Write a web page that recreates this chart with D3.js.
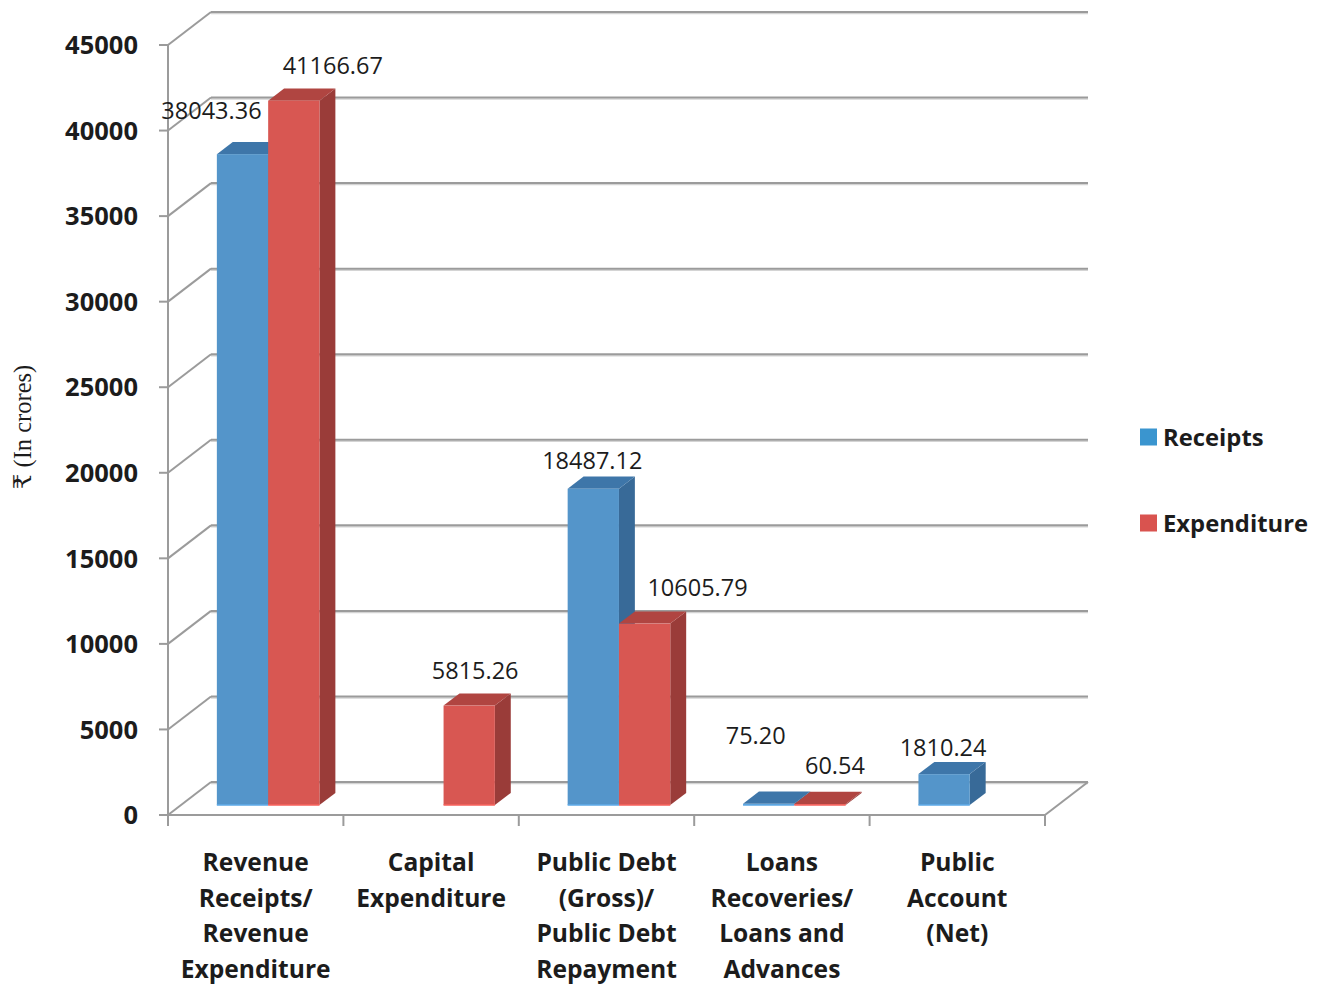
<!DOCTYPE html>
<html><head><meta charset="utf-8">
<script src="https://cdn.jsdelivr.net/npm/d3@7"></script>
<style>body{margin:0;background:#fff}svg{display:block}</style>
</head><body>
<svg id="chart" width="1325" height="988"></svg>
<script>
const categories = [
  ["Revenue","Receipts/","Revenue","Expenditure"],
  ["Capital","Expenditure"],
  ["Public Debt","(Gross)/","Public Debt","Repayment"],
  ["Loans","Recoveries/","Loans and","Advances"],
  ["Public","Account","(Net)"]
];
const seriesNames = ["Receipts","Expenditure"];
const receipts    = [38043.36, null, 18487.12, 75.20, 1810.24];
const expenditure = [41166.67, 5815.26, 10605.79, 60.54, null];
const receiptLabels    = ["38043.36", "", "18487.12", "75.20", "1810.24"];
const expenditureLabels= ["41166.67", "5815.26", "10605.79", "60.54", ""];
const yTicks = [0,5000,10000,15000,20000,25000,30000,35000,40000,45000];
// manual label nudges (as in the original, labels were moved by hand)
const receiptNudge     = [[-39,-37],[0,0],[-9,-22],[-21,-62],[-9,-20]];
const expenditureNudge = [[31,-29],[-2,-29],[45,-30],[7,-32],[0,0]];

const svg = d3.select("#chart");
const DX = 43, DY = -33;          // full depth offset of the 3D box
const D0 = 0.30, D1 = 0.67;       // bar depth range (fraction)
const catIdx = categories.map((c,i)=>i);
const x = d3.scaleBand().domain(catIdx).range([168,1045]);
const y = d3.scaleLinear().domain([0,45000]).range([815,45]);
const bw = x.bandwidth();
const inner = d3.scaleBand().domain(seriesNames).range([bw*0.205, bw*0.79]);
const ink = "#1c1c1c";

const grid = "#9b9b9b";
const gG = svg.append("g");
yTicks.forEach(t=>{
  const yf = y(t);
  gG.append("line").attr("x1",168+DX).attr("x2",1088).attr("y1",yf+DY+1.5).attr("y2",yf+DY+1.5)
    .attr("stroke","#d4d4d4").attr("stroke-width",1.5);
  gG.append("line").attr("x1",168+DX).attr("x2",1088).attr("y1",yf+DY).attr("y2",yf+DY)
    .attr("stroke",grid).attr("stroke-width",2);
  gG.append("line").attr("x1",168).attr("y1",yf).attr("x2",168+DX).attr("y2",yf+DY)
    .attr("stroke",grid).attr("stroke-width",2);
  gG.append("line").attr("x1",159).attr("x2",168).attr("y1",yf).attr("y2",yf)
    .attr("stroke",grid).attr("stroke-width",2);
});
gG.append("line").attr("x1",1045).attr("y1",y(0)).attr("x2",1045+DX).attr("y2",y(0)+DY)
  .attr("stroke",grid).attr("stroke-width",2);
gG.append("line").attr("x1",168).attr("x2",168).attr("y1",y(45000)).attr("y2",y(0))
  .attr("stroke",grid).attr("stroke-width",2);
gG.append("line").attr("x1",168).attr("x2",1045).attr("y1",y(0)).attr("y2",y(0))
  .attr("stroke",grid).attr("stroke-width",2);
d3.range(categories.length+1).forEach(i=>{
  const xx = 168 + i*bw;
  gG.append("line").attr("x1",xx).attr("x2",xx).attr("y1",y(0)).attr("y2",y(0)+11)
    .attr("stroke",grid).attr("stroke-width",2);
});

const colors = {
  Receipts:    {front:"#5495CA", top:"#3E76A9", side:"#386A98"},
  Expenditure: {front:"#D85752", top:"#B04541", side:"#9A3C39"}
};
const bars = svg.append("g");
const lblG = svg.append("g");
const ox0 = D0*DX, oy0 = D0*DY, ddx = (D1-D0)*DX, ddy = (D1-D0)*DY;
catIdx.forEach(i=>{
  [["Receipts",receipts,receiptLabels,receiptNudge],["Expenditure",expenditure,expenditureLabels,expenditureNudge]].forEach(([name,vals,labs,nud])=>{
    const v = vals[i];
    if (v==null) return;
    const c = colors[name];
    const xl = x(i)+inner(name)+ox0, xr = xl+inner.bandwidth();
    const yb = y(0)+oy0, yt = y(v)+oy0;
    const g = bars.append("g");
    g.append("path").attr("d",`M${xr},${yb}L${xr+ddx},${yb+ddy}L${xr+ddx},${yt+ddy}L${xr},${yt}Z`).attr("fill",c.side);
    g.append("path").attr("d",`M${xl},${yt}L${xl+ddx},${yt+ddy}L${xr+ddx},${yt+ddy}L${xr},${yt}Z`).attr("fill",c.top);
    g.append("rect").attr("x",xl).attr("y",yt).attr("width",xr-xl).attr("height",Math.max(0,yb-yt)).attr("fill",c.front);
    g.append("line").attr("x1",xl).attr("x2",xr).attr("y1",yb).attr("y2",yb).attr("stroke",d3.color(c.front).brighter(0.4)).attr("stroke-width",1.5);
    const cx = (xl+xr)/2 + ddx/2, cy = yt + ddy/2;
    lblG.append("text").attr("x",cx+nud[i][0]).attr("y",cy+nud[i][1]).attr("dy","0.36em")
      .attr("text-anchor","middle").attr("font-family","'Open Sans', sans-serif").attr("font-size",23.5)
      .attr("fill",ink).text(labs[i]);
  });
});

const tl = svg.append("g");
yTicks.forEach(t=>{
  tl.append("text").attr("x",138).attr("y",y(t)).attr("dy","0.36em").attr("text-anchor","end")
    .attr("font-family","'Open Sans', sans-serif").attr("font-weight","bold").attr("font-size",25.5)
    .attr("fill",ink).text(t);
});

const cl = svg.append("g");
categories.forEach((lines,i)=>{
  const t = cl.append("text").attr("text-anchor","middle").attr("font-family","'Open Sans', sans-serif")
    .attr("font-weight","bold").attr("font-size",24.6).attr("fill",ink);
  lines.forEach((ln,j)=>{
    t.append("tspan").attr("x",x(i)+bw/2).attr("y",862+j*35.8).attr("dy","0.36em").text(ln);
  });
});

svg.append("text").attr("transform","translate(31,427) rotate(-90)").attr("text-anchor","middle")
  .attr("font-family","'Liberation Serif', 'DejaVu Serif', serif").attr("font-size",24.5).attr("fill",ink)
  .text("₹ (In crores)");

const lg = svg.append("g");
[["Receipts","#3A95CF",437],["Expenditure","#D9534F",523]].forEach(([n,col,cy])=>{
  lg.append("rect").attr("x",1140).attr("y",cy-8.5).attr("width",17).attr("height",17).attr("fill",col);
  lg.append("text").attr("x",1163).attr("y",cy).attr("dy","0.36em").attr("font-family","'Open Sans', sans-serif")
    .attr("font-weight","bold").attr("font-size",23.8).attr("fill",ink).text(n);
});
</script>
</body></html>
